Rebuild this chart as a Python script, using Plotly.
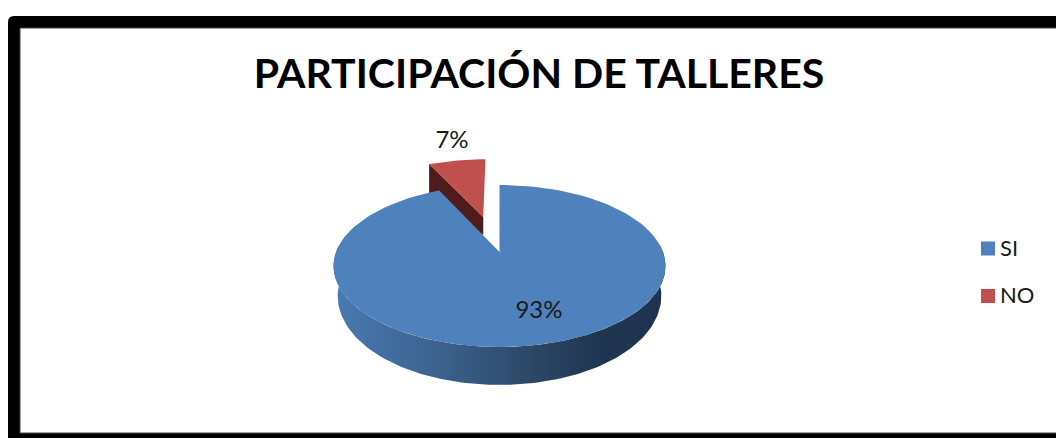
import numpy as np
import plotly.graph_objects as go

# datos
categorias = ["SI", "NO"]
valores = [93, 7]
etiquetas = ["93%", "7%"]

COLOR_SI = "#4F81BD"
COLOR_NO = "#C0504D"
COLOR_NO_LADO = "#4E1C1A"
ANCHO, ALTO = 1056, 438

# perspectiva de la tarta: centro, escala y deformación en píxeles
CX, CY = 499.5, 252
KX, KY, C = 163.5, 35.0, -0.1728
SEPARACION = 0.494


def proyectar(u, v):
    w = 1 + C * v
    return CX + KX * u / w, (CY + KY * v) / w


def rim(theta):
    return np.sin(theta), -np.cos(theta)


def sector(t0, t1, du=0.0, dv=0.0):
    """Contorno superior de un sector entre dos ángulos (horario desde arriba)."""
    t = np.linspace(t0, t1, 120)
    u, v = rim(t)
    u = np.concatenate([[0], u, [0]]) + du
    v = np.concatenate([[0], v, [0]]) + dv
    return proyectar(u, v)


total = sum(valores)
corte = 2 * np.pi * valores[0] / total
medio = (corte + 2 * np.pi) / 2
du, dv = SEPARACION * np.sin(medio), -SEPARACION * np.cos(medio)

fig = go.Figure()

# lado oscuro de la porción separada
xa, ya = proyectar(np.array([np.sin(corte) + du, du]), np.array([-np.cos(corte) + dv, dv]))
fig.add_trace(go.Scatter(
    x=[xa[0], xa[1], xa[1], xa[0], xa[0]],
    y=[ya[0], ya[1], ya[1] + 18, ya[0] + 18 + 14, ya[0]],
    mode="lines", fill="toself", fillcolor=COLOR_NO_LADO, line=dict(width=0),
    showlegend=False, hoverinfo="skip",
))

# cara superior de la porción NO
xs, ys = sector(corte, 2 * np.pi, du, dv)
fig.add_trace(go.Scatter(
    x=xs, y=ys, mode="lines", fill="toself", fillcolor=COLOR_NO, line=dict(width=0),
    name=categorias[1], showlegend=False, hoverinfo="name",
))

# lado frontal de la porción SI, con degradado; la base es algo más estrecha
t_lado = np.radians(np.linspace(85, 275, 160))
u_l, v_l = rim(t_lado)
x_l, y_l = proyectar(u_l, v_l)
prof = 28 + 10 * v_l
x_base = CX + (x_l - CX) * 0.975
fig.add_trace(go.Scatter(
    x=np.concatenate([x_l, x_base[::-1]]),
    y=np.concatenate([y_l, (y_l + prof)[::-1]]),
    mode="lines", fill="toself", line=dict(width=0),
    fillgradient=dict(
        type="horizontal",
        colorscale=[[0, "#4A7AB2"], [0.3, "#3D6390"], [0.6, "#2C4766"], [0.8, "#1F3550"], [1, "#1D3350"]],
    ),
    showlegend=False, hoverinfo="skip",
))

# cara superior de la porción SI
xs, ys = sector(0, corte)
fig.add_trace(go.Scatter(
    x=xs, y=ys, mode="lines", fill="toself", fillcolor=COLOR_SI, line=dict(width=0),
    name=categorias[0], showlegend=False, hoverinfo="name",
))

# etiquetas de datos
fig.add_trace(go.Scatter(
    x=[539, 452], y=[312, 142], mode="text", text=etiquetas,
    textfont=dict(family="Lato", size=24, color="#1A1A1A"),
    showlegend=False, hoverinfo="skip",
))

# leyenda dibujada con marcadores y texto para clavar la posición
for nombre, color, y_ley in zip(categorias, [COLOR_SI, COLOR_NO], [248.5, 296]):
    fig.add_trace(go.Scatter(
        x=[988], y=[y_ley], mode="markers", name=nombre,
        marker=dict(symbol="square", size=14, color=color),
        showlegend=False, hoverinfo="name",
    ))
    fig.add_trace(go.Scatter(
        x=[1000], y=[y_ley + 1.5], mode="text",
        text=[nombre], textposition="middle right",
        textfont=dict(family="Lato", size=22, color="#1A1A1A"),
        showlegend=False, hoverinfo="skip",
    ))

fig.update_layout(
    width=ANCHO, height=ALTO,
    margin=dict(l=0, r=0, t=0, b=0),
    paper_bgcolor="white", plot_bgcolor="white",
    title=dict(
        text="<b>PARTICIPACIÓN DE TALLERES</b>",
        x=539 / ANCHO, xanchor="center", y=1 - 74 / ALTO, yanchor="middle",
        font=dict(family="Lato", size=41, color="black"),
    ),
    xaxis=dict(range=[0, ANCHO], visible=False, fixedrange=True),
    yaxis=dict(range=[ALTO, 0], visible=False, fixedrange=True),
    shapes=[
        dict(type="path", layer="below", fillcolor="black", line=dict(width=0),
             path="M 8 438 L 8 22 Q 8 16 14 16 L 1056 16 L 1056 438 Z"),
        dict(type="rect", layer="below", fillcolor="white", line=dict(color="#444444", width=1),
             x0=20, y0=28, x1=1060, y1=433),
    ],
)

# sin el margen por defecto del navegador
fig.write_html(
    "out.html",
    config={"displayModeBar": False},
    post_script="document.body.style.margin='0';document.body.style.overflow='hidden';",
)
